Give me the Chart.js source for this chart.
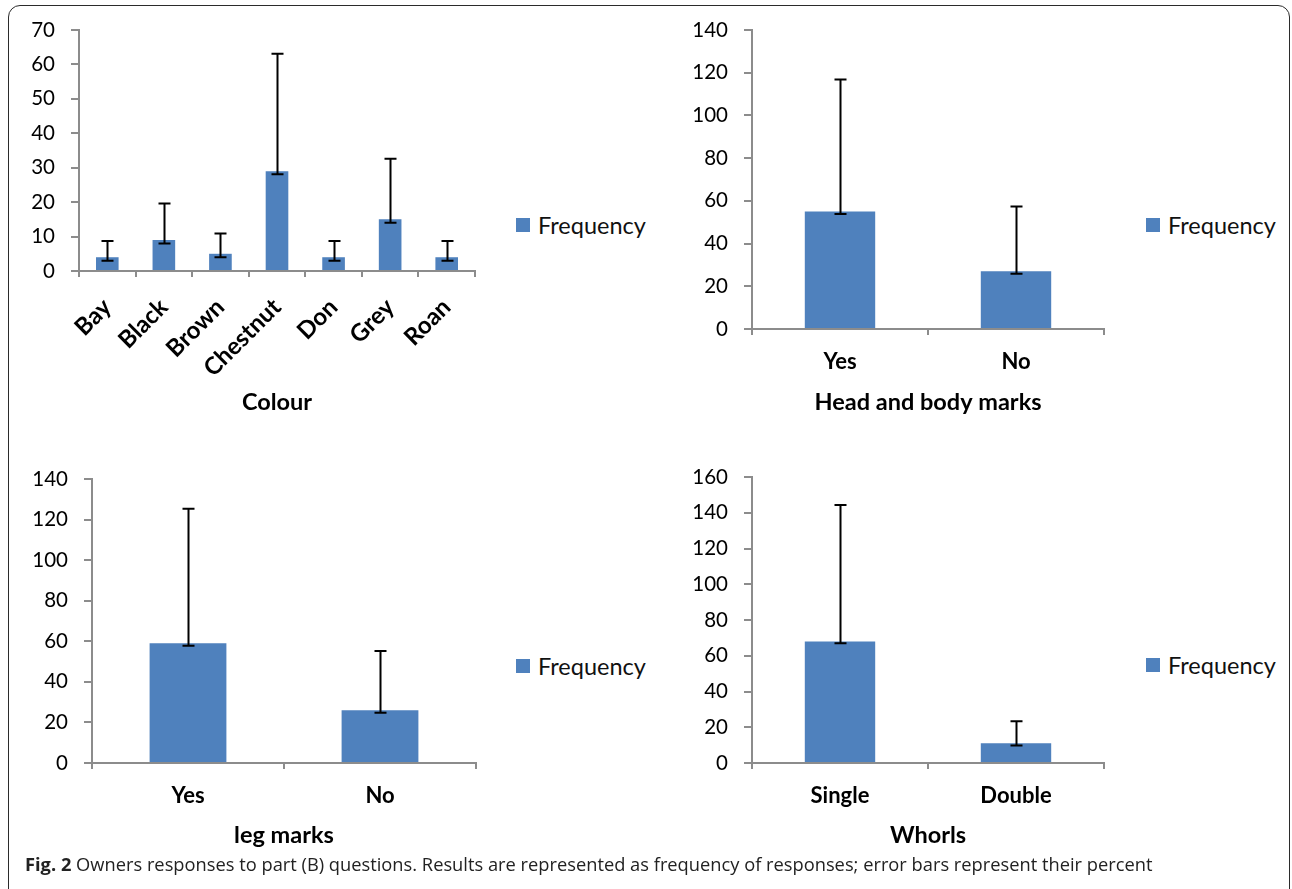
<!DOCTYPE html>
<html><head><meta charset="utf-8">
<script src="https://cdn.jsdelivr.net/npm/chart.js@4.4.1/dist/chart.umd.min.js"></script>
<style>
body{margin:0;width:1292px;height:889px;background:#fff;position:relative;overflow:hidden;font-family:Lato,sans-serif;}
.frame{position:absolute;left:8px;top:5px;width:1282px;height:930px;border:1.5px solid #2b2b2b;border-radius:12px;box-sizing:border-box;}
canvas{position:absolute;}
.legend{position:absolute;height:22px;display:flex;align-items:center;font:23.5px Lato,sans-serif;color:#111;white-space:nowrap;}
.legend .sw{display:inline-block;width:14px;height:14px;background:#4F81BD;margin-right:8px;}
.caption{position:absolute;left:25px;top:851px;font:18.3px "Open Sans",sans-serif;color:#222;white-space:nowrap;}
.caption b{font-weight:700;}
</style>
</head><body>
<div class="frame"></div>
<canvas id="c1"></canvas>
<canvas id="c2"></canvas>
<canvas id="c3"></canvas>
<canvas id="c4"></canvas>
<div class="legend" style="left:516px;top:214px;"><span class="sw"></span>Frequency</div>
<div class="legend" style="left:1146px;top:214px;"><span class="sw"></span>Frequency</div>
<div class="legend" style="left:516px;top:655px;"><span class="sw"></span>Frequency</div>
<div class="legend" style="left:1146px;top:654px;"><span class="sw"></span>Frequency</div>
<div class="caption"><b>Fig. 2</b> Owners responses to part (B) questions. Results are represented as frequency of responses; error bars represent their percent</div>
<script>
// ---- data ----
const seriesName = 'Frequency';

const colourCats = ['Bay', 'Black', 'Brown', 'Chestnut', 'Don', 'Grey', 'Roan'];
const colourFreq = [4, 9, 5, 29, 4, 15, 4];
const colourErrPlus = [4.7, 10.6, 5.9, 34.1, 4.7, 17.6, 4.7];
const colourErrMinus = [1, 1, 1, 0.9, 1, 1, 1];
const colourTicks = [0, 10, 20, 30, 40, 50, 60, 70];

const headCats = ['Yes', 'No'];
const headFreq = [55, 27];
const headErrPlus = [61.8, 30.3];
const headErrMinus = [1.2, 1.1];
const headTicks = [0, 20, 40, 60, 80, 100, 120, 140];

const legCats = ['Yes', 'No'];
const legFreq = [59, 26];
const legErrPlus = [66.3, 29.2];
const legErrMinus = [1.2, 1.2];
const legTicks = [0, 20, 40, 60, 80, 100, 120, 140];

const whorlCats = ['Single', 'Double'];
const whorlFreq = [68, 11];
const whorlErrPlus = [76.4, 12.4];
const whorlErrMinus = [1, 1.2];
const whorlTicks = [0, 20, 40, 60, 80, 100, 120, 140, 160];

// ---- styling / layout ----
const BAR = '#4F81BD';
const AXIS = '#8c8c8c';
const FONT = 'Lato, sans-serif';

const errorBars = {
  id: 'errorBars',
  afterDatasetsDraw(chart) {
    const meta = chart.getDatasetMeta(0);
    const ys = chart.scales.y;
    const ctx = chart.ctx;
    const ds = chart.data.datasets[0];
    ctx.save();
    ctx.strokeStyle = '#000';
    ctx.lineWidth = 2;
    meta.data.forEach((bar, i) => {
      const v = ds.data[i];
      const top = ys.getPixelForValue(v + ds.errPlus[i]);
      const low = ys.getPixelForValue(v - ds.errMinus[i]);
      const x = Math.round(bar.x) + 0.5;
      ctx.beginPath();
      ctx.moveTo(x, top); ctx.lineTo(x, low);
      ctx.moveTo(x - 6, top); ctx.lineTo(x + 6, top);
      ctx.moveTo(x - 6, low); ctx.lineTo(x + 6, low);
      ctx.stroke();
    });
    ctx.restore();
  }
};

function makeChart(id, cats, vals, plus, minus, ticks, title, rotate, box) {
  const cv = document.getElementById(id);
  const H = box.titleY + 28 - box.top;
  cv.width = box.width; cv.height = H;
  cv.style.left = box.left + 'px'; cv.style.top = box.top + 'px';
  new Chart(cv, {
    type: 'bar',
    data: {
      labels: cats,
      datasets: [{
        label: seriesName, data: vals, errPlus: plus, errMinus: minus,
        backgroundColor: BAR, borderWidth: 0,
        barPercentage: 0.4, categoryPercentage: 1.0
      }]
    },
    options: {
      responsive: false, animation: false, devicePixelRatio: 1,
      layout: { padding: { left: 0, bottom: 0, top: box.plotTop - box.top, right: box.left + box.width - box.plotRight } },
      plugins: { legend: { display: false }, tooltip: { enabled: false } },
      scales: {
        x: {
          grid: { drawOnChartArea: false, drawTicks: true, tickLength: 6, color: AXIS, lineWidth: 2 },
          border: { display: true, color: AXIS, width: 2 },
          ticks: {
            autoSkip: false, color: '#000', padding: rotate ? 16 : 14,
            minRotation: rotate ? 45 : 0, maxRotation: rotate ? 45 : 0,
            font: { family: FONT, size: rotate ? 24 : 22, weight: 'bold' }
          },
          title: { display: true, text: title, color: '#000', padding: { top: 0, bottom: 13 },
                   font: { family: FONT, size: 23.5, weight: 'bold', lineHeight: 1.2 } },
          afterFit: s => { s.height = box.top + H - box.plotBottom; }
        },
        y: {
          min: ticks[0], max: ticks[ticks.length - 1],
          afterBuildTicks: s => { s.ticks = ticks.map(v => ({ value: v })); },
          grid: { drawOnChartArea: false, drawTicks: true, tickLength: 8, color: AXIS, lineWidth: 2 },
          border: { display: true, color: AXIS, width: 2 },
          ticks: { color: '#000', padding: 16, font: { family: FONT, size: 20.5 } },
          afterFit: s => { s.width = box.plotLeft - box.left; }
        }
      }
    },
    plugins: [errorBars]
  });
}

makeChart('c1', colourCats, colourFreq, colourErrPlus, colourErrMinus, colourTicks, 'Colour', true,
  { left: 0, top: 0, width: 500, plotLeft: 79, plotRight: 475, plotTop: 30, plotBottom: 271, titleY: 402 });
makeChart('c2', headCats, headFreq, headErrPlus, headErrMinus, headTicks, 'Head and body marks', false,
  { left: 660, top: 0, width: 470, plotLeft: 752, plotRight: 1104, plotTop: 30, plotBottom: 329, titleY: 402 });
makeChart('c3', legCats, legFreq, legErrPlus, legErrMinus, legTicks, 'leg marks', false,
  { left: 0, top: 440, width: 500, plotLeft: 92, plotRight: 476, plotTop: 479, plotBottom: 763, titleY: 835 });
makeChart('c4', whorlCats, whorlFreq, whorlErrPlus, whorlErrMinus, whorlTicks, 'Whorls', false,
  { left: 660, top: 440, width: 470, plotLeft: 752, plotRight: 1104, plotTop: 477, plotBottom: 763, titleY: 835 });
</script>
</body></html>
